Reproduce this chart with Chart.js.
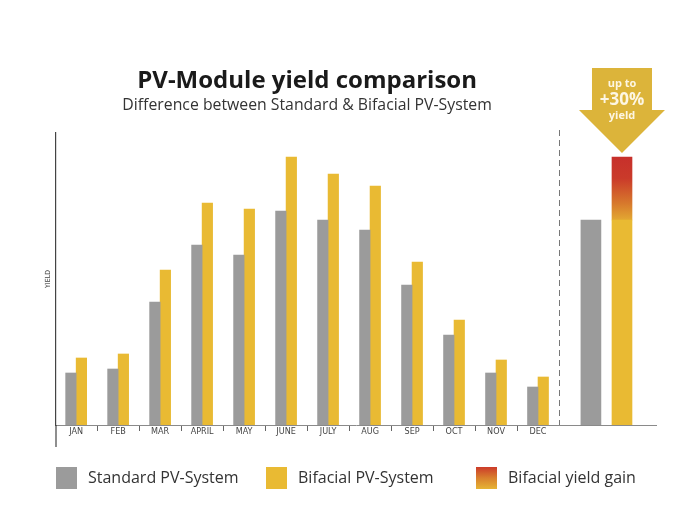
<!DOCTYPE html>
<html>
<head>
<meta charset="utf-8">
<script src="https://cdn.jsdelivr.net/npm/chart.js@4/dist/chart.umd.min.js"></script>
<style>
  html, body { margin: 0; padding: 0; background: #fff; }
  #wrap { width: 694px; height: 518px; }
</style>
</head>
<body>
<div id="wrap"><canvas id="chart" width="694" height="518"></canvas></div>
<script>
// values (arbitrary yield units)
const months = ['JAN', 'FEB', 'MAR', 'APRIL', 'MAY', 'JUNE', 'JULY', 'AUG', 'SEP', 'OCT', 'NOV', 'DEC'];
const standardYield = [52, 56, 123, 180, 170, 214, 205, 195, 140, 90, 52, 38];
const bifacialYield = [67, 71, 155, 222, 216, 268, 251, 239, 163, 105, 65, 48];
const totalYield = [205, 268]; // standard, bifacial
const legendLabels = ['Standard PV-System', 'Bifacial PV-System', 'Bifacial yield gain'];

const GRAY = '#9b9b9b';
const YELLOW = '#e9ba33';
const RED = '#c7302b';

const gainGradient = (context) => {
    const chart = context.chart;
    const { ctx, chartArea, scales } = chart;
    if (!chartArea) {
        return RED;
    }
    const top = scales.y.getPixelForValue(totalYield[1]);
    const bottom = scales.y.getPixelForValue(totalYield[0]);
    const g = ctx.createLinearGradient(0, top, 0, bottom + 8);
    g.addColorStop(0, RED);
    g.addColorStop(0.3, '#ca3a2a');
    g.addColorStop(0.65, '#d7782c');
    g.addColorStop(0.9, '#e3aa32');
    g.addColorStop(1, YELLOW);
    return g;
};

// titles, separator, arrow and legend
const decorations = {
    id: 'decorations',
    afterDraw(chart) {
        const { ctx, chartArea, scales } = chart;
        const x = scales.x;
        ctx.save();

        // title over the monthly part
        const cx = x.getPixelForValue(5.5);
        ctx.fillStyle = '#1a1a1a';
        ctx.textAlign = 'center';
        ctx.textBaseline = 'middle';
        ctx.font = 'bold 24px "Open Sans"';
        ctx.fillText('PV-Module yield comparison', cx, 81);
        ctx.fillStyle = '#333';
        ctx.font = '15.8px "Open Sans"';
        ctx.fillText('Difference between Standard & Bifacial PV-System', cx, 105);

        // y axis runs past the baseline
        ctx.strokeStyle = '#444';
        ctx.lineWidth = 1.2;
        ctx.beginPath();
        ctx.moveTo(chartArea.left, chartArea.bottom);
        ctx.lineTo(chartArea.left, chartArea.bottom + 22);
        ctx.stroke();

        // dashed separator
        const sx = Math.round(x.getPixelForValue(11.5)) + 0.5;
        ctx.strokeStyle = '#777';
        ctx.lineWidth = 1;
        ctx.setLineDash([6, 4]);
        ctx.beginPath();
        ctx.moveTo(sx, chartArea.top - 3);
        ctx.lineTo(sx, chartArea.bottom);
        ctx.stroke();
        ctx.setLineDash([]);

        // arrow over the bifacial total
        const ax = x.getPixelForValue(13);
        const tip = scales.y.getPixelForValue(totalYield[1]) - 4;
        ctx.fillStyle = '#dcb43a';
        ctx.beginPath();
        ctx.moveTo(ax - 30, 68);
        ctx.lineTo(ax + 30, 68);
        ctx.lineTo(ax + 30, 110);
        ctx.lineTo(ax + 43, 110);
        ctx.lineTo(ax, tip);
        ctx.lineTo(ax - 43, 110);
        ctx.lineTo(ax - 30, 110);
        ctx.closePath();
        ctx.fill();
        ctx.fillStyle = '#fdf6e3';
        ctx.font = 'bold 11px "Open Sans"';
        ctx.fillText('up to', ax, 84);
        ctx.font = 'bold 17px "Open Sans"';
        ctx.fillText('+30%', ax, 100);
        ctx.font = 'bold 11px "Open Sans"';
        ctx.fillText('yield', ax, 116);

        // legend
        const boxX = [56, 266, 476];
        const fills = [GRAY, YELLOW, null];
        ctx.textAlign = 'left';
        ctx.font = '16px "Open Sans"';
        legendLabels.forEach((label, i) => {
            let fill = fills[i];
            if (!fill) {
                fill = ctx.createLinearGradient(0, 467, 0, 489);
                fill.addColorStop(0, '#cc3b2a');
                fill.addColorStop(0.5, '#d9802d');
                fill.addColorStop(1, '#e6b434');
            }
            ctx.fillStyle = fill;
            ctx.fillRect(boxX[i], 467, 21, 22);
            ctx.fillStyle = '#333';
            ctx.fillText(label, boxX[i] + 32, 478);
        });

        ctx.restore();
    }
};

const monthTicks = [];
for (let i = 0; i < months.length; i++) {
    monthTicks.push({ value: i });
    if (i < months.length - 1) {
        monthTicks.push({ value: i + 0.5 });
    }
}

const barDefaults = { grouped: false, borderWidth: 0 };

new Chart(document.getElementById('chart'), {
    type: 'bar',
    data: {
        datasets: [
            {
                ...barDefaults,
                label: legendLabels[0],
                data: standardYield.map((v, i) => ({ x: i - 0.125, y: v })),
                backgroundColor: GRAY,
                barThickness: 10.5
            },
            {
                ...barDefaults,
                label: legendLabels[1],
                data: bifacialYield.map((v, i) => ({ x: i + 0.125, y: v })),
                backgroundColor: YELLOW,
                barThickness: 10.5
            },
            {
                ...barDefaults,
                label: 'Standard total',
                data: [{ x: 12.26, y: totalYield[0] }],
                backgroundColor: GRAY,
                barThickness: 20
            },
            {
                ...barDefaults,
                label: 'Bifacial total',
                data: [{ x: 13, y: totalYield[0] }],
                backgroundColor: YELLOW,
                barThickness: 20
            },
            {
                ...barDefaults,
                label: legendLabels[2],
                data: [{ x: 13, y: [totalYield[0], totalYield[1]] }],
                backgroundColor: gainGradient,
                barThickness: 20
            }
        ]
    },
    options: {
        responsive: false,
        animation: false,
        devicePixelRatio: 1,
        layout: {
            padding: { left: 36, right: 38, top: 133, bottom: 73 }
        },
        plugins: {
            legend: { display: false },
            tooltip: { enabled: false },
            title: { display: false }
        },
        scales: {
            x: {
                type: 'linear',
                offset: false,
                min: -0.48,
                max: 13.81,
                afterFit: (scale) => { scale.height = 20; },
                afterBuildTicks: (scale) => { scale.ticks = monthTicks.slice(); },
                border: { display: true, color: '#8a8a8a', width: 1 },
                grid: {
                    offset: false,
                    drawOnChartArea: false,
                    drawTicks: true,
                    tickLength: 6,
                    color: (c) => (c.tick && Number.isInteger(c.tick.value)) ? 'rgba(0,0,0,0)' : '#666'
                },
                ticks: {
                    autoSkip: false,
                    maxRotation: 0,
                    padding: -5,
                    color: '#444',
                    font: { family: "'Liberation Sans Narrow', 'DejaVu Sans Condensed', sans-serif", size: 9 },
                    callback: (value) => Number.isInteger(value) ? months[value] : ''
                }
            },
            y: {
                min: 0,
                max: 292,
                afterFit: (scale) => { scale.width = 20; },
                border: { display: true, color: '#444', width: 1.2 },
                grid: { display: false, drawTicks: false },
                ticks: { display: false },
                title: {
                    display: true,
                    text: 'YIELD',
                    color: '#444',
                    padding: { top: 8, bottom: 0 },
                    font: { family: "'Liberation Sans Narrow', 'DejaVu Sans Condensed', sans-serif", size: 7 }
                }
            }
        }
    },
    plugins: [decorations]
});
</script>
</body>
</html>
